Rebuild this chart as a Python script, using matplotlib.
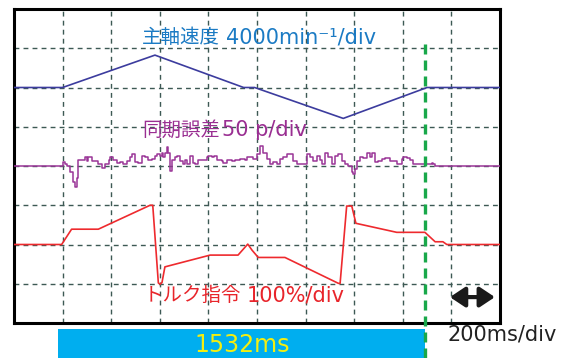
import matplotlib.pyplot as plt
from matplotlib.patches import Rectangle

plt.rcParams['font.family'] = ['DejaVu Sans', 'Noto Sans CJK JP']

# spindle speed [min^-1] vs time [ms]
spd_t = [0, 200, 580, 945, 990, 1355, 1700, 2000]
spd_v = [0, 0, 3300, 0, 0, -3150, 0, 0]

# sync error [pulse] vs time [ms]
err_t = [0, 199, 203, 210, 217, 231, 244, 251, 258, 262, 265, 279, 292, 299, 306, 320, 334, 347,
         361, 375, 389, 395, 409, 423, 437, 450, 464, 478, 485, 498, 512, 526, 539, 553, 567, 581,
         587, 601, 608, 615, 622, 629, 635, 642, 649, 663, 670, 683, 697, 704, 711, 725, 738, 745,
         759, 773, 793, 800, 814, 821, 834, 855, 862, 876, 896, 910, 930, 951, 958, 985, 998, 1012,
         1026, 1040, 1053, 1067, 1081, 1094, 1108, 1122, 1136, 1149, 1163, 1177, 1191, 1204, 1218,
         1232, 1245, 1259, 1266, 1280, 1293, 1307, 1321, 1335, 1348, 1362, 1376, 1389, 1396, 1403,
         1410, 1424, 1437, 1451, 1465, 1472, 1485, 1499, 1513, 1527, 1547, 1575, 1595, 1602, 1616,
         1630, 1643, 1657, 1671, 1684, 1705, 1719, 1726, 1732, 2000]
err_p = [0, 0, 5, 3, 0, -8, -21, -27, -15, 0, 8, 8, 11, 6, 11, 6, 6, 3,
         -2, 3, 8, 12, 8, 4, 5, 2, 6, 11, 15, 5, 4, 13, 11, 8, 9, 13,
         15, 13, 17, 11, 17, 24, 17, -6, 8, 11, 13, 6, 3, 8, 2, 13, 4, 2,
         8, 8, 11, 13, 11, 13, 8, 6, 4, 8, 6, 8, 9, 8, 11, 9, 15, 26,
         17, 9, 3, 5, 2, 9, 11, 15, 15, 7, 2, 3, 3, 15, 11,
         7, 13, 8, 3, 17, 12, 2, 13, 15, 6, 2, 0, -8, -10, -4,
         6, 12, 10, 17, 12, 16, 5, 7, 9, 10, 6, 3, 9, 12, 10,
         8, 2, 2, 2, 2, 2, 4, 2, 0, 0]

# torque command [%] vs time [ms]
trq_t = [0, 196, 237, 347, 560, 571, 594, 601, 609, 621, 807, 922, 962, 979, 1005, 1115,
         1335, 1342, 1369, 1390, 1407, 1575, 1691, 1733, 1765, 1781, 2000]
trq_v = [0, 0, 39, 39, 100, 100, -98, -101, -97, -57, -27, -27, 1, -14, -33, -33,
         -99, -99, 98, 98, 54, 31, 31, 7, 7, 0, 0]

# screen offsets (div) and scales (unit/div)
spd_zero, spd_div = 6, 4000
err_zero, err_div = 4, 50
trq_zero, trq_div = 2, 100

t_mark = 1690        # end of measured interval
t_start = 181

fig = plt.figure(figsize=(5.72, 3.58), dpi=100)
ax = fig.add_axes([14 / 572, 35 / 358, 486 / 572, 314 / 358])
ax.set_xlim(0, 2000)
ax.set_ylim(0, 8)

grid_kw = dict(color='#3d5954', lw=1.0, ls=(0, (3.5, 3)), zorder=1)
for k in range(1, 10):
    ax.axvline(k * 200, **grid_kw)
for k in range(1, 8):
    ax.axhline(k, **grid_kw)

ax.plot(spd_t, [spd_zero + v / spd_div for v in spd_v], color='#3c3c9e', lw=1.2, zorder=3)
ax.plot(err_t, [err_zero + v / err_div for v in err_p], color='#9a3597', lw=1.1,
        drawstyle='steps-post', zorder=3)
ax.plot(trq_t, [trq_zero + v / trq_div for v in trq_v], color='#ee2a2e', lw=1.2, zorder=3)


def label(x, y, jp, rest, color, gap):
    # japanese name followed by the scale in latin text
    t = ax.text(x, y, jp, color=color, fontsize=14, va='center', ha='left',
                family=['Noto Sans CJK JP', 'DejaVu Sans'])
    ax.annotate(rest, xy=(1, 0.5), xycoords=t, xytext=(gap, 0), textcoords='offset points',
                color=color, fontsize=15, va='center', ha='left')


label(528, 7.27, '主軸速度', '4000min⁻¹/div', '#1b7bc4', 4)
label(528, 4.92, '同期誤差', '50 p/div', '#9a2f92', 1)
label(535, 0.69, 'トルク指令', '100%/div', '#e8252b', 4)

# elapsed-time bar under the screen
ax.add_patch(Rectangle((t_start, -0.9), t_mark - t_start, 0.75, facecolor='#00aeef',
                       edgecolor='none', clip_on=False, zorder=2))
ax.text(938, -0.56, '1532ms', color='#f4ee10', fontsize=17, ha='center', va='center')

ax.plot([t_mark, t_mark], [-0.9, 7.13], color='#19a84a', lw=2.4, ls=(0, (3, 1.8)),
        clip_on=False, zorder=4)

# time scale
ax.annotate('', xy=(1979, 0.66), xytext=(1794, 0.66),
            arrowprops=dict(arrowstyle='<|-|>,head_length=0.9,head_width=0.6',
                            lw=3, color='#1a1a1a', shrinkA=0, shrinkB=0))
ax.text(1782, -0.3, '200ms/div', color='#222222', fontsize=15, ha='left', va='center')

ax.set_xticks([])
ax.set_yticks([])
for s in ax.spines.values():
    s.set_linewidth(2.2)
    s.set_color('black')

plt.savefig('out.png', dpi=100)
